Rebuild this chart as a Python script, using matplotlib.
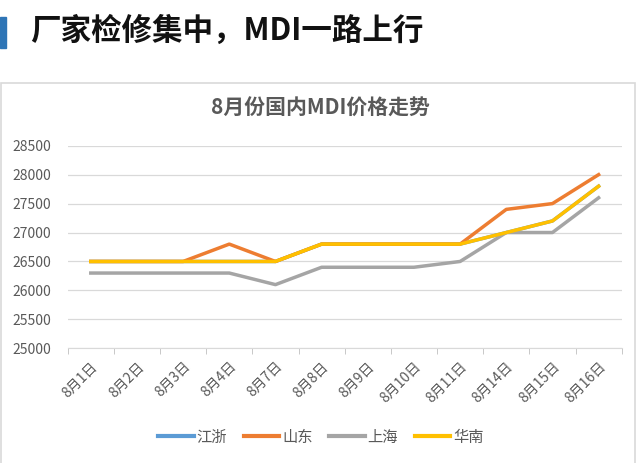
import matplotlib.pyplot as plt
from matplotlib.patches import Rectangle

plt.rcParams['font.family'] = ['Noto Sans CJK SC', 'DejaVu Sans']

# -------------------------------
# 데이터
# -------------------------------
dates = ["8月1日", "8月2日", "8月3日", "8月4日", "8月7日", "8月8日",
         "8月9日", "8月10日", "8月11日", "8月14日", "8月15日", "8月16日"]

jiangzhe = [26500, 26500, 26500, 26500, 26500, 26800, 26800, 26800, 26800, 27000, 27200, 27800]
shandong = [26500, 26500, 26500, 26800, 26500, 26800, 26800, 26800, 26800, 27400, 27500, 28000]
shanghai = [26300, 26300, 26300, 26300, 26100, 26400, 26400, 26400, 26500, 27000, 27000, 27600]
huanan = [26500, 26500, 26500, 26500, 26500, 26800, 26800, 26800, 26800, 27000, 27200, 27800]

series_names = ["江浙", "山东", "上海", "华南"]
colors = ["#5B9BD5", "#ED7D31", "#A5A5A5", "#FFC000"]

y_ticks = [25000, 25500, 26000, 26500, 27000, 27500, 28000, 28500]

# -------------------------------
# 그림
# -------------------------------
fig = plt.figure(figsize=(6.4, 4.63), dpi=100)
W, H = 640, 463

# 상단 제목 + 파란 막대
fig.patches.append(Rectangle((0, 1 - 48 / H), 6 / W, 31 / H,
                             transform=fig.transFigure, color="#2E75B6"))
fig.text(30 / W, 1 - 31 / H, "厂家检修集中，MDI一路上行", fontsize=22,
         fontweight="heavy", color="#111111", va="center", ha="left")

# 차트 테두리
fig.patches.append(Rectangle((1 / W, -0.01), 634 / W, 1 - 83 / H + 0.01,
                             transform=fig.transFigure, fill=False,
                             edgecolor="#D9D9D9", lw=1.2))

fig.text(320 / W, 1 - 108 / H, "8月份国内MDI价格走势", fontsize=15,
         fontweight="bold", color="#595959", ha="center", va="center")

ax = fig.add_axes([67.7 / W, 1 - 348.3 / H, (621.7 - 67.7) / W, (348.3 - 145.7) / H])

x = list(range(len(dates)))
all_values = [jiangzhe, shandong, shanghai, huanan]
for vals, name, c in zip(all_values, series_names, colors):
    ax.plot(x, vals, color=c, lw=2.5, label=name, solid_joinstyle="round")

ax.set_xlim(-0.5, len(dates) - 0.5)
ax.set_ylim(25000, 28500)
ax.set_yticks(y_ticks)
ax.set_yticklabels([str(v) for v in y_ticks], fontsize=10, color="#595959")
ax.set_xticks(x)
ax.set_xticklabels(dates, rotation=45, ha="right", rotation_mode="anchor",
                   fontsize=10, color="#595959")
ax.set_xticks([i - 0.5 for i in range(len(dates) + 1)], minor=True)
ax.tick_params(axis="x", which="major", length=0, pad=8)
ax.tick_params(axis="x", which="minor", length=4, color="#BFBFBF")
ax.tick_params(axis="y", length=0, pad=12)

ax.grid(axis="y", color="#D9D9D9", lw=0.9)
ax.set_axisbelow(True)
for s in ["left", "right", "top"]:
    ax.spines[s].set_visible(False)
ax.spines["bottom"].set_color("#D9D9D9")

fig.legend(loc="center", bbox_to_anchor=(321 / W, 1 - 437 / H), ncol=4,
           frameon=False, fontsize=11, handlelength=2.3, handletextpad=0.2,
           columnspacing=1.1, labelcolor="#595959")
for line in fig.legends[0].get_lines():
    line.set_linewidth(3)

plt.savefig("out.png", dpi=100)
